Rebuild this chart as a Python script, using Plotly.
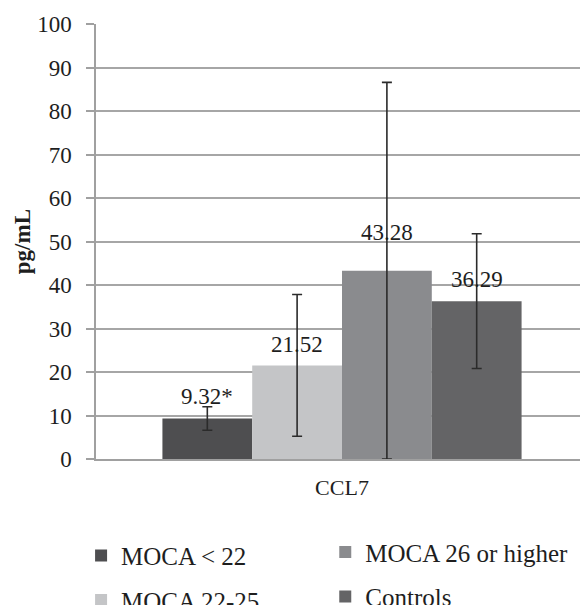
import plotly.graph_objects as go

category = ["CCL7"]
groups = ["MOCA < 22", "MOCA 22-25", "MOCA 26 or higher", "Controls"]
values = [9.32, 21.52, 43.28, 36.29]
errors = [2.7, 16.3, 43.3, 15.5]
labels = ["9.32*", "21.52", "43.28", "36.29"]
y_ticks = [0, 10, 20, 30, 40, 50, 60, 70, 80, 90, 100]
y_title = "pg/mL"

colors = ["#4e4e50", "#c4c5c7", "#8a8b8e", "#646466"]
legend_ref = ["legend", "legend", "legend2", "legend2"]
label_shift = [22, 21, 38, 22]

FONT = "Liberation Serif"
TXT = "#1e1e1e"
bargap = 0.27
n = len(groups)
w = (1 - bargap) / n

fig = go.Figure()
for i, g in enumerate(groups):
    fig.add_trace(go.Bar(
        x=category, y=[values[i]], name=g,
        marker=dict(color=colors[i], line=dict(width=0)),
        error_y=dict(type="data", array=[errors[i]], visible=True,
                     color="#2b2b2b", thickness=1.6, width=5),
        legend=legend_ref[i], legendgroup=g,
    ))
    fig.add_annotation(
        x=(i - (n - 1) / 2) * w, y=values[i], xref="x", yref="y",
        text=labels[i], showarrow=False, yshift=label_shift[i],
        font=dict(family=FONT, size=23, color=TXT),
    )

fig.add_annotation(
    x=-0.149, y=0.5, xref="paper", yref="paper", xanchor="center", yanchor="middle",
    text="<b>" + y_title + "</b>", textangle=-90, showarrow=False,
    font=dict(family=FONT, size=23, color=TXT),
)

legend_common = dict(orientation="v", xref="container", yref="container",
                     xanchor="left", yanchor="top", tracegroupgap=9,
                     font=dict(family=FONT, size=25, color=TXT),
                     bgcolor="rgba(0,0,0,0)", itemwidth=30)

fig.update_layout(
    width=580, height=597,
    margin=dict(l=88, r=0, t=16, b=146, autoexpand=False),
    paper_bgcolor="white", plot_bgcolor="white",
    barmode="group", bargap=bargap, bargroupgap=0,
    font=dict(family=FONT, size=23, color=TXT),
    showlegend=True,
    legend=dict(x=0.126, y=0.121, **legend_common),
    legend2=dict(x=0.547, y=0.127, **legend_common),
    xaxis=dict(showline=True, linecolor="#a0a0a0", linewidth=1.5,
               ticks="", showgrid=False, ticklabelstandoff=8,
               tickfont=dict(family=FONT, size=22, color=TXT)),
    yaxis=dict(range=[0, 100], tickvals=y_ticks, showline=True,
               linecolor="#a0a0a0", linewidth=1.5, ticks="outside",
               ticklen=8, tickcolor="#a0a0a0", tickwidth=1.5,
               showgrid=True, gridcolor="#a6a6a6", gridwidth=1.5,
               zeroline=False, ticklabelstandoff=10,
               tickfont=dict(family=FONT, size=23, color=TXT)),
)

fig.write_html("out.html")
